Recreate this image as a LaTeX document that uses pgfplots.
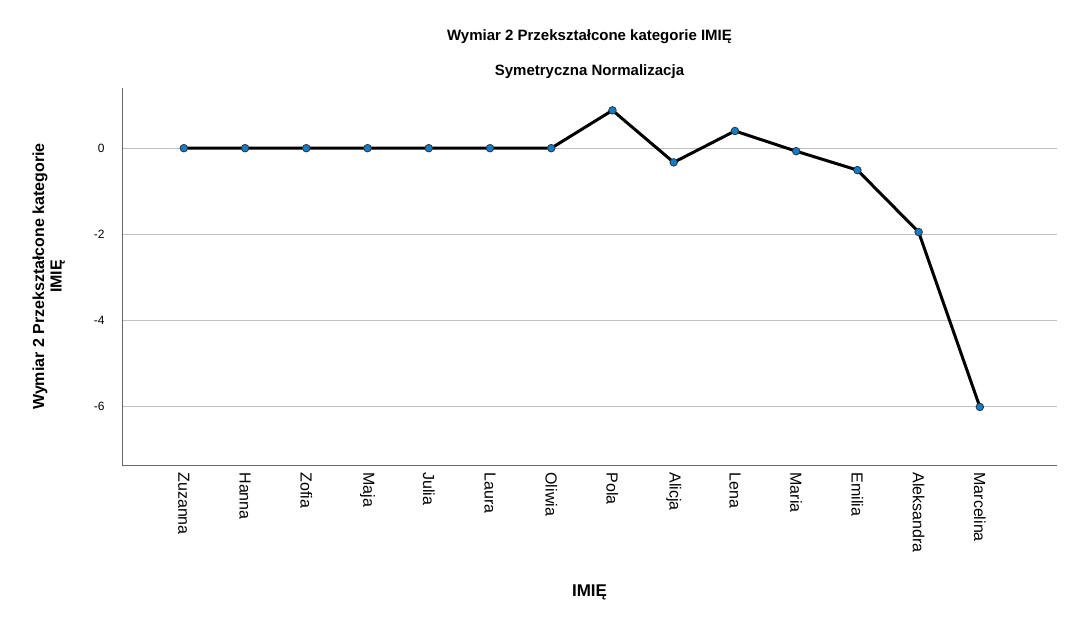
\documentclass[border=0pt]{standalone}
\usepackage{pgfplots}
\pgfplotsset{compat=1.18}
\usepackage{fontspec}
\setmainfont{Liberation Sans}
\begin{document}
\begin{tikzpicture}
\useasboundingbox (-122pt,-163pt) rectangle (955pt,465pt);
\begin{axis}[
  at={(0pt,0pt)}, anchor=south west,
  width=935pt, height=377pt, scale only axis,
  xmin=-1.01, xmax=14.26, ymin=-7.37, ymax=1.4,
  axis x line*=bottom, axis y line*=left,
  axis line style={black!60, thick},
  xtick={0,...,13},
  xticklabels={Zuzanna,Hanna,Zofia,Maja,Julia,Laura,Oliwia,Pola,Alicja,Lena,Maria,Emilia,Aleksandra,Marcelina},
  x tick label style={rotate=-90, anchor=west, font=\fontsize{16}{18}\selectfont, xshift=4pt},
  ytick={0,-2,-4,-6},
  y tick label style={font=\fontsize{12}{14}\selectfont, xshift=-14pt},
  /pgf/number format/assume math mode=true,
  major tick length=0pt,
  ymajorgrids, grid style={black!25, thick},
  xlabel={\bfseries IMIĘ}, xlabel style={font=\fontsize{17}{19}\selectfont, yshift=-25pt},
  ylabel={\shortstack{\bfseries Wymiar 2 Przekształcone kategorie\\\bfseries IMIĘ}},
  ylabel style={font=\fontsize{16}{15}\selectfont, yshift=22pt},
  title={\shortstack{\bfseries Wymiar 2 Przekształcone kategorie IMIĘ\\[18pt]\bfseries Symetryczna Normalizacja}},
  title style={font=\fontsize{15}{16}\selectfont, yshift=0pt},
]
\addplot[black, line width=3pt, mark=*, mark options={fill=cyan!60!blue, draw=black!80, line width=0.8pt}, mark size=3.8pt]
coordinates {(0,0)(1,0)(2,0)(3,0)(4,0)(5,0)(6,0)(7,0.88)(8,-0.33)(9,0.40)(10,-0.07)(11,-0.51)(12,-1.95)(13,-6.02)};
\end{axis}
\end{tikzpicture}
\end{document}
